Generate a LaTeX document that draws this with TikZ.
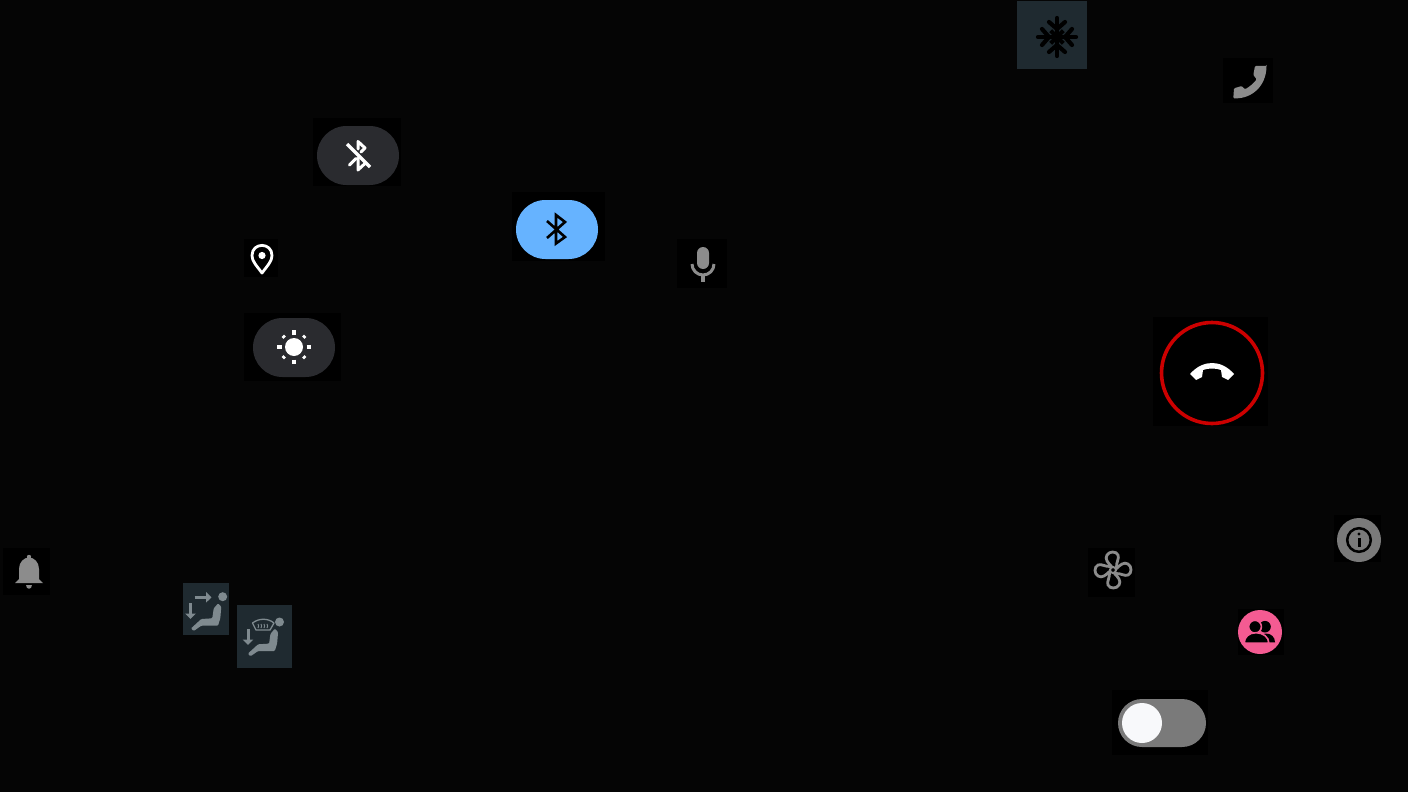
\documentclass[tikz,border=0pt]{standalone}
\usetikzlibrary{arrows.meta}

\definecolor{screenBg}{HTML}{050505}
\definecolor{seatBg}{HTML}{1F2A30}
\definecolor{pillDark}{HTML}{2A2B2F}
\definecolor{pillBlue}{HTML}{66B3FF}
\definecolor{iconGrey}{HTML}{8C8C8C}
\definecolor{seatGrey}{HTML}{7F8A8F}
\definecolor{discGrey}{HTML}{7A7A7A}
\definecolor{callRed}{HTML}{CC0000}
\definecolor{peoplePink}{HTML}{F45B92}
\definecolor{knobWhite}{HTML}{F8F9FB}

\tikzset{
	backbox/.style = {fill=black, draw=none},
	pill/.style = {draw=none, rounded corners=29.5},
	stroke/.style = {line width=3, line cap=round, line join=round},
	seatarrow/.style = {line width=3, seatGrey, -{Triangle[length=5.5,width=10.5]}},
}

\newcommand*{\backing}[4]{\fill [backbox] (#1,#2) rectangle (#3,#4);}

% person in a seat, #1 x of head, #2 y of head
\newcommand*{\seatfigure}[2]{
	\fill [seatGrey] (#1,#2) circle (4.5);
	\begin{scope}[shift={(#1,#2)}]
		\fill [seatGrey,rounded corners=1] (-7.4,10) -- (-4.7,6.6) -- (-1.4,10) -- (-2.4,21.6) -- (-4.7,29) -- (-21.4,29) -- (-29,34.3) -- (-31.7,31.7) -- (-21.4,22.3) -- (-10.4,21.6) -- (-9,11.6) -- cycle;
	\end{scope}
}

\begin{document}
\begin{tikzpicture}[x=1pt,y=-1pt]

\useasboundingbox (0,0) rectangle (1408,792);
\fill [screenBg] (0,0) rectangle (1408,792);

% snow
\fill [seatBg] (1017,1) rectangle (1087,69);
\foreach \a in {0,90,180,270}{
	\begin{scope}[shift={(1057,37)},rotate=\a]
		\draw [black,line width=4.2,line cap=round] (0,0) -- (19,0);
		\draw [black,line width=4.2,line cap=round,line join=round] (15,-8) -- (8,0) -- (15,8);
	\end{scope}
}
\foreach \a in {45,135,225,315}{
	\draw [black,line width=4.2] (1057,37) -- ++(\a:9);
}

% phone
\backing{1223}{58}{1273}{103}
\fill [iconGrey,rounded corners=1] (1266.5,66) -- (1255,66) -- (1253.3,75) -- (1256.7,79.3) .. controls (1253,84) and (1249,87) .. (1245,89.3) -- (1241.7,86) -- (1234,88.3) -- (1233.3,98.3) .. controls (1252,99) and (1266,86) .. cycle;

% bluetooth off
\backing{313}{118}{401}{186}
\fill [pillDark,pill] (317,126) rectangle (399,185);
\draw [white,stroke] (358,149) -- (358,141.5) -- (365,148) -- (361,152);
\draw [white,stroke] (349.5,165) -- (356,158.5);
\draw [white,stroke] (358,158) -- (358,170) -- (365,163.5);
\draw [white,stroke,line cap=butt,line width=3.4] (347,144) -- (370,167);

% bluetooth on
\backing{512}{192}{605}{261}
\fill [pillBlue,pill] (516,200) rectangle (598,259);
\draw [black,line width=2.6,line join=miter] (547,221) -- (565,237) -- (556,243.5) -- (556,215) -- (565,222) -- (547,238);

% pin
\backing{244}{239}{278}{277}
\draw [white,line width=2.8,line join=round] (262,273) .. controls (256,265) and (252,261) .. (252,255.5) .. controls (252,242) and (272,242) .. (272,255.5) .. controls (272,261) and (268,265) .. cycle;
\fill [white] (262,255.5) circle (3.6);

% sun
\backing{244}{313}{341}{381}
\fill [pillDark,pill] (253,318) rectangle (335,377);
\fill [white] (294,347) circle (9);
\foreach \a in {0,90,180,270}{
	\draw [white,line width=3.2] (294,347) ++(\a:12.5) -- ++(\a:4.5);
}
\foreach \a in {45,135,225,315}{
	\draw [white,line width=3.4] (294,347) ++(\a:13.2) -- ++(\a:2.6);
}

% mic
\backing{677}{239}{727}{288}
\fill [iconGrey,rounded corners=6] (697,247) rectangle (709,269);
\draw [iconGrey,line width=3] (692,264) arc (180:0:11);
\draw [iconGrey,line width=3.6] (703,275) -- (703,282);

% hang up
\backing{1153}{317}{1268}{426}
\draw [callRed,line width=3.6] (1212,373) circle (50.5);
\fill [white] (1190,374) .. controls (1197,366) and (1205,363) .. (1212,363) .. controls (1219,363) and (1227,366) .. (1234,374) -- (1228,380) -- (1222,377) -- (1221,370) .. controls (1216,368) and (1208,368) .. (1203,370) -- (1202,377) -- (1196,380) -- cycle;

% bell
\backing{3}{548}{50}{595}
\fill [iconGrey] (29,557) circle (2.2);
\fill [iconGrey] (15,583) -- (19,579) -- (19,569) .. controls (19,562) and (24,557.5) .. (29,557.5) .. controls (34,557.5) and (39,562) .. (39,569) -- (39,579) -- (43,583) -- cycle;
\fill [iconGrey] (26,585) -- (32,585) .. controls (32,590) and (26,590) .. cycle;

% seats
\fill [seatBg] (183,583) rectangle (229,635);
\seatfigure{222.7}{596.7}
\draw [seatarrow] (194.5,597.3) -- (211.5,597.3);
\draw [seatarrow] (190.5,603) -- (190.5,619);

\fill [seatBg] (237,605) rectangle (292,668);
\seatfigure{279.5}{622}
\draw [seatarrow] (248,629) -- (248,645);
\draw [seatGrey,line width=1.3,line join=round] (252.5,623) .. controls (259,618) and (268,618) .. (274,623) -- (270,630) -- (256,630) -- cycle;
\foreach \x in {258,261,264,267}{
	\draw [seatGrey,line width=1] (\x,624) -- ++(0.6,2) -- ++(-0.6,2);
}

% fan
\backing{1088}{548}{1135}{597}
\draw [iconGrey,line width=2] (1113,570) circle (3);
\foreach \a in {0,90,180,270}{
	\begin{scope}[shift={(1113,570)},rotate=\a]
		\draw [iconGrey,line width=2.8,line cap=round] (-1.5,-3.5) .. controls (-5,-7) and (-8.5,-11) .. (-6,-15) .. controls (-3.5,-19) and (3,-19) .. (5,-15) .. controls (6.5,-11.5) and (3,-8) .. (3.5,-2);
	\end{scope}
}

% info
\backing{1334}{515}{1381}{562}
\fill [discGrey] (1359,540) circle (22);
\draw [black,line width=2.5] (1359,540) circle (11.8);
\fill [black] (1359,534) circle (1.7);
\draw [black,line width=3] (1359,538) -- (1359,547);

% people
\backing{1238}{609}{1284}{655}
\fill [peoplePink] (1260,632) circle (22);
\fill [black] (1265,626.7) circle (5.8);
\fill [black] (1259,642.3) .. controls (1259,637) and (1262,633.5) .. (1266,633.5) .. controls (1271,633.5) and (1275,637) .. (1275,642.3) -- cycle;
\filldraw [black,draw=peoplePink,line width=1.6] (1255,626.7) circle (6.4);
\filldraw [black,draw=peoplePink,line width=1.6] (1244.2,643.1) .. controls (1244.2,637) and (1249,632.7) .. (1256,632.7) .. controls (1263,632.7) and (1268.8,637) .. (1268.8,643.1) -- cycle;

% toggle
\backing{1112}{690}{1208}{755}
\fill [discGrey,rounded corners=24] (1118,699) rectangle (1206,747);
\fill [knobWhite] (1142,723) circle (20);

\end{tikzpicture}
\end{document}
